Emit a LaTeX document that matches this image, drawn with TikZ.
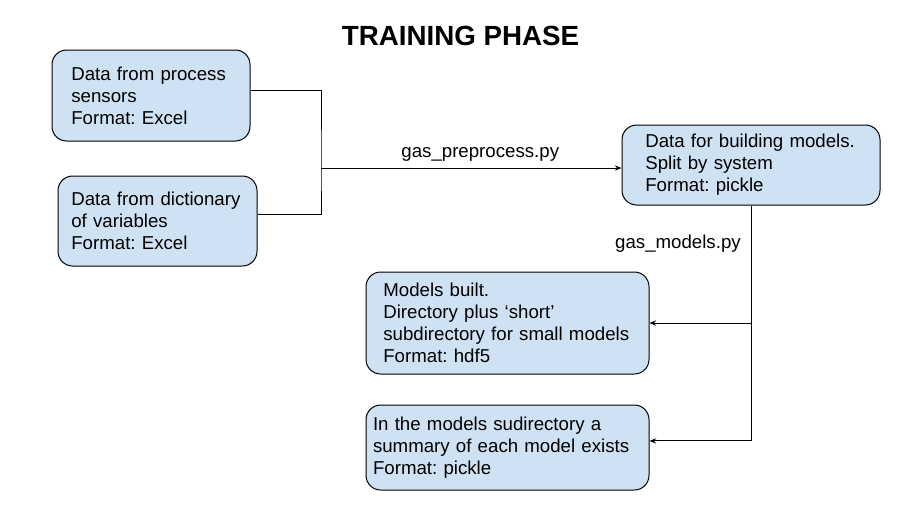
\documentclass[tikz,border=0pt]{standalone}
\usepackage{fontspec}
\setmainfont{Liberation Sans}
\usetikzlibrary{arrows.meta}
\definecolor{boxblue}{HTML}{CFE2F3}
\frenchspacing
\hyphenpenalty=10000

\begin{document}
\begin{tikzpicture}[x=0.75pt, y=-0.75pt,
    box/.style={draw, fill=boxblue, rounded corners=11pt, align=left, line width=0.75pt,
        inner ysep=0pt, font=\fontsize{14}{16.5}\selectfont},
    flow/.style={line width=0.75pt, -{Stealth[length=5pt,width=4pt]}},
    lbl/.style={font=\fontsize{14}{16.5}\selectfont}]
\useasboundingbox (0,0) rectangle (909,522);
\node[font=\bfseries\fontsize{20.8}{24}\selectfont, anchor=base] (title) at (460.5,45) {TRAINING PHASE};
% input data
\node[box, text width=119.5pt, inner xsep=14.5pt, minimum height=68.25pt] (sensors) at (151,95.5)
    {Data from process\\sensors\\Format: Excel};
\node[box, text width=129.25pt, inner xsep=10pt, minimum height=67.5pt] (dictionary) at (157.5,221)
    {Data from dictionary\\of variables\\Format: Excel};
% preprocessed data
\node[box, text width=158.5pt, inner xsep=17.5pt, minimum height=60pt] (build) at (751,165)
    {Data for building models.\\Split by system\\Format: pickle};
% models
\node[box, text width=186.25pt, inner xsep=13pt, minimum height=76.5pt] (models) at (507.5,323)
    {Models built.\\Directory plus ‘short’\\subdirectory for small models\\Format: hdf5};
\node[box, text width=201.75pt, inner xsep=5.25pt, minimum height=63.75pt] (summary) at (507.5,447.5)
    {In the models sudirectory a\\summary of each model exists\\Format: pickle};
\coordinate (split) at (321,168);
\draw[line width=0.75pt] ([yshift=3.4pt]sensors.east) -| (split) |- ([yshift=5.25pt]dictionary.east);
\draw[flow] (split) -- node[lbl, above=1pt, pos=0.53] {gas\_preprocess.py} (split -| build.west);
\draw[flow] (build.south) |- node[lbl, left=4pt, pos=0.08] {gas\_models.py} ([yshift=4.9pt]summary.east);
\draw[flow] (build.south |- models.east) -- (models.east);
\end{tikzpicture}
\end{document}
